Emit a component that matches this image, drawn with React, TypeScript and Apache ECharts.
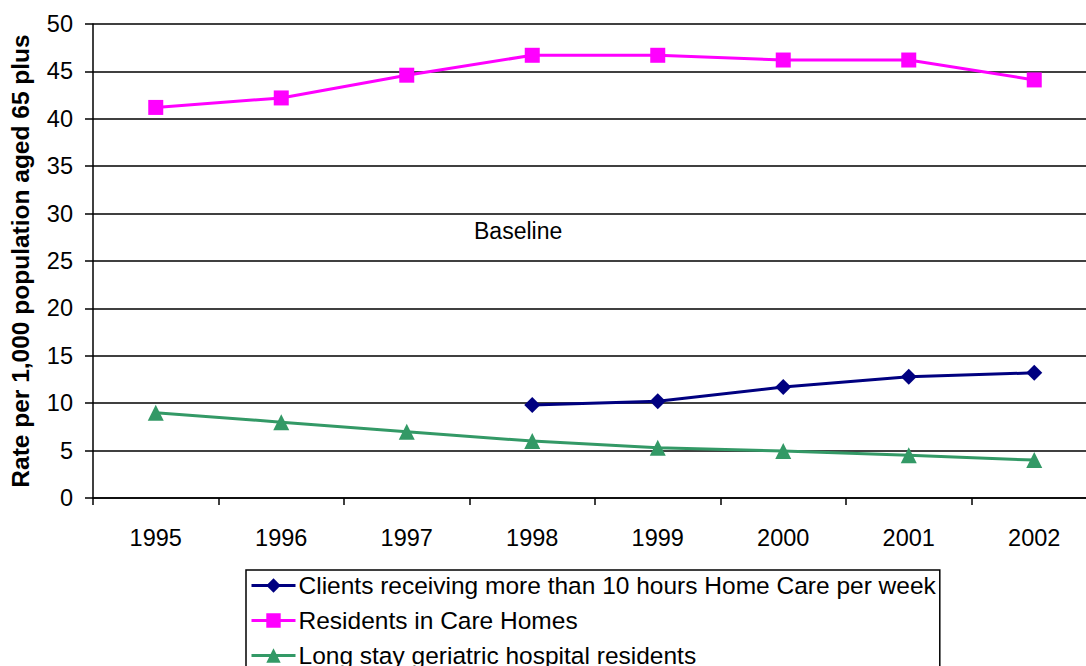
import React, { useEffect, useRef } from "react";
import * as echarts from "echarts";

const years = ["1995", "1996", "1997", "1998", "1999", "2000", "2001", "2002"];
const homeCare: (number | string)[] = ["-", "-", "-", 9.8, 10.2, 11.7, 12.8, 13.2];
const careHomes = [41.2, 42.2, 44.6, 46.7, 46.7, 46.2, 46.2, 44.1];
const hospital = [9.0, 8.0, 7.0, 6.0, 5.3, 4.95, 4.5, 4.0];

const FONT = "'Liberation Sans', Arial, sans-serif";

export default function App() {
  const ref = useRef<HTMLDivElement>(null);
  useEffect(() => {
    if (!ref.current) return;
    const chart = echarts.init(ref.current, undefined, { renderer: "svg" });
    const mk = (name: string, data: any[], color: string, symbol: string, size: number) => ({
      name,
      type: "line",
      data,
      symbol,
      symbolSize: size,
      showAllSymbol: true,
      connectNulls: false,
      lineStyle: { color, width: 3 },
      itemStyle: { color, borderColor: color, borderWidth: 0 },
      emphasis: { disabled: true },
    });
    chart.setOption({
      animation: false,
      textStyle: { fontFamily: FONT },
      grid: {
        left: 93,
        top: 24,
        bottom: 168,
        right: -11,
        containLabel: false,
        outerBoundsMode: "none",
      },
      xAxis: {
        type: "category",
        data: years,
        boundaryGap: true,
        axisLine: { lineStyle: { color: "#000", width: 1.5 } },
        axisTick: { show: true, length: 7, alignWithLabel: false, lineStyle: { color: "#000", width: 1.5 } },
        axisLabel: { color: "#000", fontSize: 23.5, margin: 28, fontFamily: FONT },
        splitLine: { show: false },
      },
      yAxis: {
        type: "value",
        min: 0,
        max: 50,
        interval: 5,
        name: "Rate per 1,000 population aged 65 plus",
        nameLocation: "middle",
        nameRotate: 90,
        nameGap: 60,
        nameTextStyle: { color: "#000", fontSize: 24.5, fontWeight: "bold", fontFamily: FONT },
        axisLine: { show: true, lineStyle: { color: "#000", width: 1.5 } },
        axisTick: { show: true, length: 8, inside: false, lineStyle: { color: "#000", width: 1.5 } },
        axisLabel: { color: "#000", fontSize: 23.5, margin: 20, fontFamily: FONT },
        splitLine: { show: true, lineStyle: { color: "#000", width: 1.5 } },
      },
      legend: {
        orient: "vertical",
        left: 246,
        top: 570,
        height: 400,
        itemWidth: 44,
        itemHeight: 18,
        itemGap: 10,
        padding: [3, 4, 5, 4],
        borderColor: "#000",
        borderWidth: 1.5,
        backgroundColor: "#fff",
        lineStyle: { width: 3 },
        textStyle: { color: "#000", fontSize: 24.5, lineHeight: 24, fontFamily: FONT, padding: [0, 0, 0, -2] },
        data: [
          "Clients receiving more than 10 hours Home Care per week",
          "Residents in Care Homes",
          "Long stay geriatric hospital residents",
        ],
      },
      graphic: [
        {
          type: "text",
          left: 474,
          top: 219,
          style: { text: "Baseline", fontSize: 23, fill: "#000", fontFamily: FONT },
        },
      ],
      series: [
        mk("Clients receiving more than 10 hours Home Care per week", homeCare, "#000080", "diamond", 16),
        mk("Residents in Care Homes", careHomes, "#FF00FF", "rect", 15),
        mk("Long stay geriatric hospital residents", hospital, "#339966", "triangle", 16),
      ],
    });
    return () => chart.dispose();
  }, []);
  return (
    <div
      ref={ref}
      style={{ position: "fixed", left: 0, top: 0, width: 1086, height: 666, background: "#fff" }}
    />
  );
}
